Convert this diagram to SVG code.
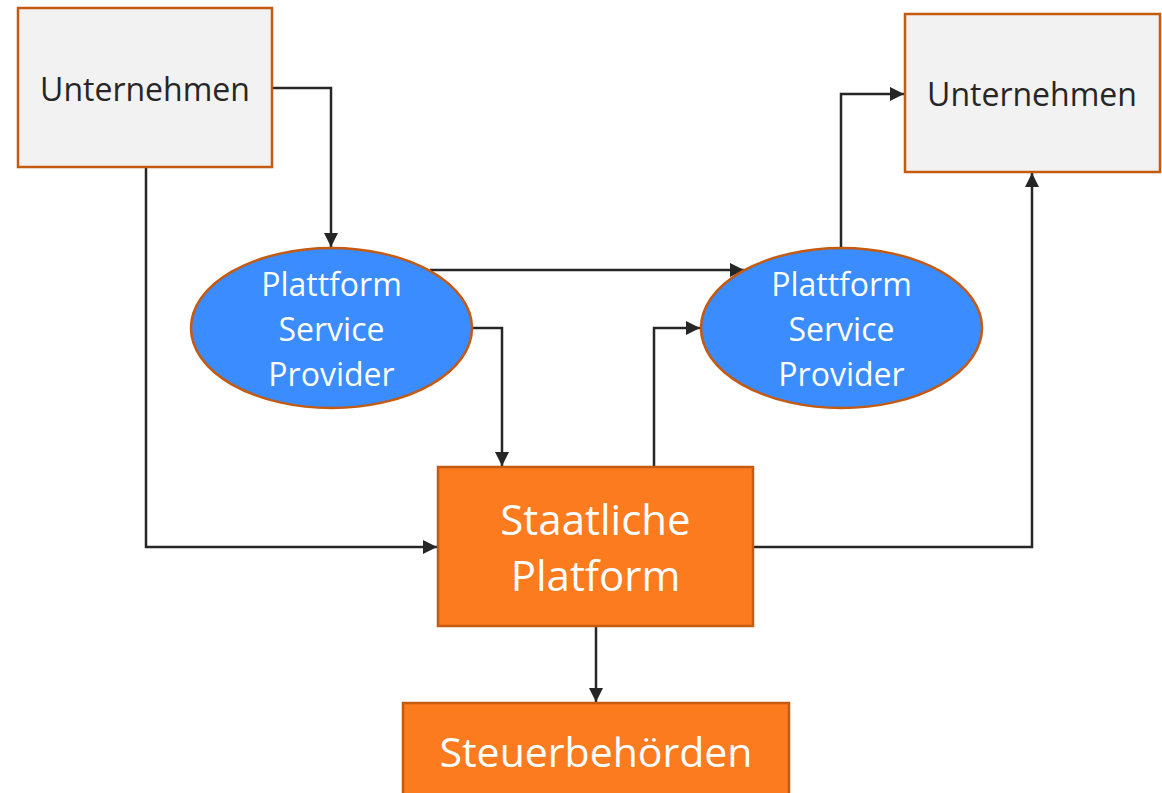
<svg xmlns="http://www.w3.org/2000/svg" width="1162" height="793" viewBox="0 0 1162 793">
<style>
.grey{fill:#F2F2F2;stroke:#C55A11;stroke-width:2.5}
.blue{fill:#3A8CFF;stroke:#C55A11;stroke-width:2.5}
.orange{fill:#FD7B1F;stroke:#C55A11;stroke-width:2.5}
.dk{font-family:"Open Sans","Noto Sans",sans-serif;fill:#262626;text-anchor:middle}
.wt{font-family:"Open Sans","Noto Sans",sans-serif;fill:#FFFFFF;text-anchor:middle}
.c{fill:none;stroke:#262626;stroke-width:2.5}
</style>
<defs>
<marker id="ah" viewBox="0 0 10 10" refX="10" refY="5" markerWidth="6.4" markerHeight="5.6" markerUnits="strokeWidth" orient="auto">
<path d="M0,0 L10,5 L0,10 Z" fill="#262626"/>
</marker>
</defs>
<rect width="1162" height="793" fill="#FFFFFF"/>
<g id="connectors">
<path class="c" d="M272,88 H331 V247" marker-end="url(#ah)"/>
<path class="c" d="M146,167 V547 H437" marker-end="url(#ah)"/>
<path class="c" d="M430,270 H744" marker-end="url(#ah)"/>
<path class="c" d="M472,328 H502 V466" marker-end="url(#ah)"/>
<path class="c" d="M654,467 V328 H700" marker-end="url(#ah)"/>
<path class="c" d="M841,248 V94 H904" marker-end="url(#ah)"/>
<path class="c" d="M753,547 H1032 V173" marker-end="url(#ah)"/>
<path class="c" d="M596,626 V702" marker-end="url(#ah)"/>
</g>
<g id="unternehmen1">
<rect class="grey" x="18" y="8" width="254" height="159"/>
<text class="dk" x="145" y="101" font-size="32">Unternehmen</text>
</g>
<g id="unternehmen2">
<rect class="grey" x="905" y="14" width="255" height="158"/>
<text class="dk" x="1032" y="106" font-size="32">Unternehmen</text>
</g>
<g id="psp1">
<ellipse class="blue" cx="331.5" cy="328" rx="140.5" ry="80"/>
<text class="wt" x="331.5" y="296" font-size="32">Plattform</text>
<text class="wt" x="331.5" y="341" font-size="32">Service</text>
<text class="wt" x="331.5" y="386" font-size="32">Provider</text>
</g>
<g id="psp2">
<ellipse class="blue" cx="841.5" cy="328" rx="140.5" ry="80"/>
<text class="wt" x="841.5" y="296" font-size="32">Plattform</text>
<text class="wt" x="841.5" y="341" font-size="32">Service</text>
<text class="wt" x="841.5" y="386" font-size="32">Provider</text>
</g>
<g id="staatliche">
<rect class="orange" x="438" y="467" width="315" height="159"/>
<text class="wt" x="595.5" y="535" font-size="42">Staatliche</text>
<text class="wt" x="595.5" y="591" font-size="42">Platform</text>
</g>
<g id="steuer">
<rect class="orange" x="403" y="703" width="386" height="100"/>
<text class="wt" x="596" y="767" font-size="41">Steuerbehörden</text>
</g>
</svg>
